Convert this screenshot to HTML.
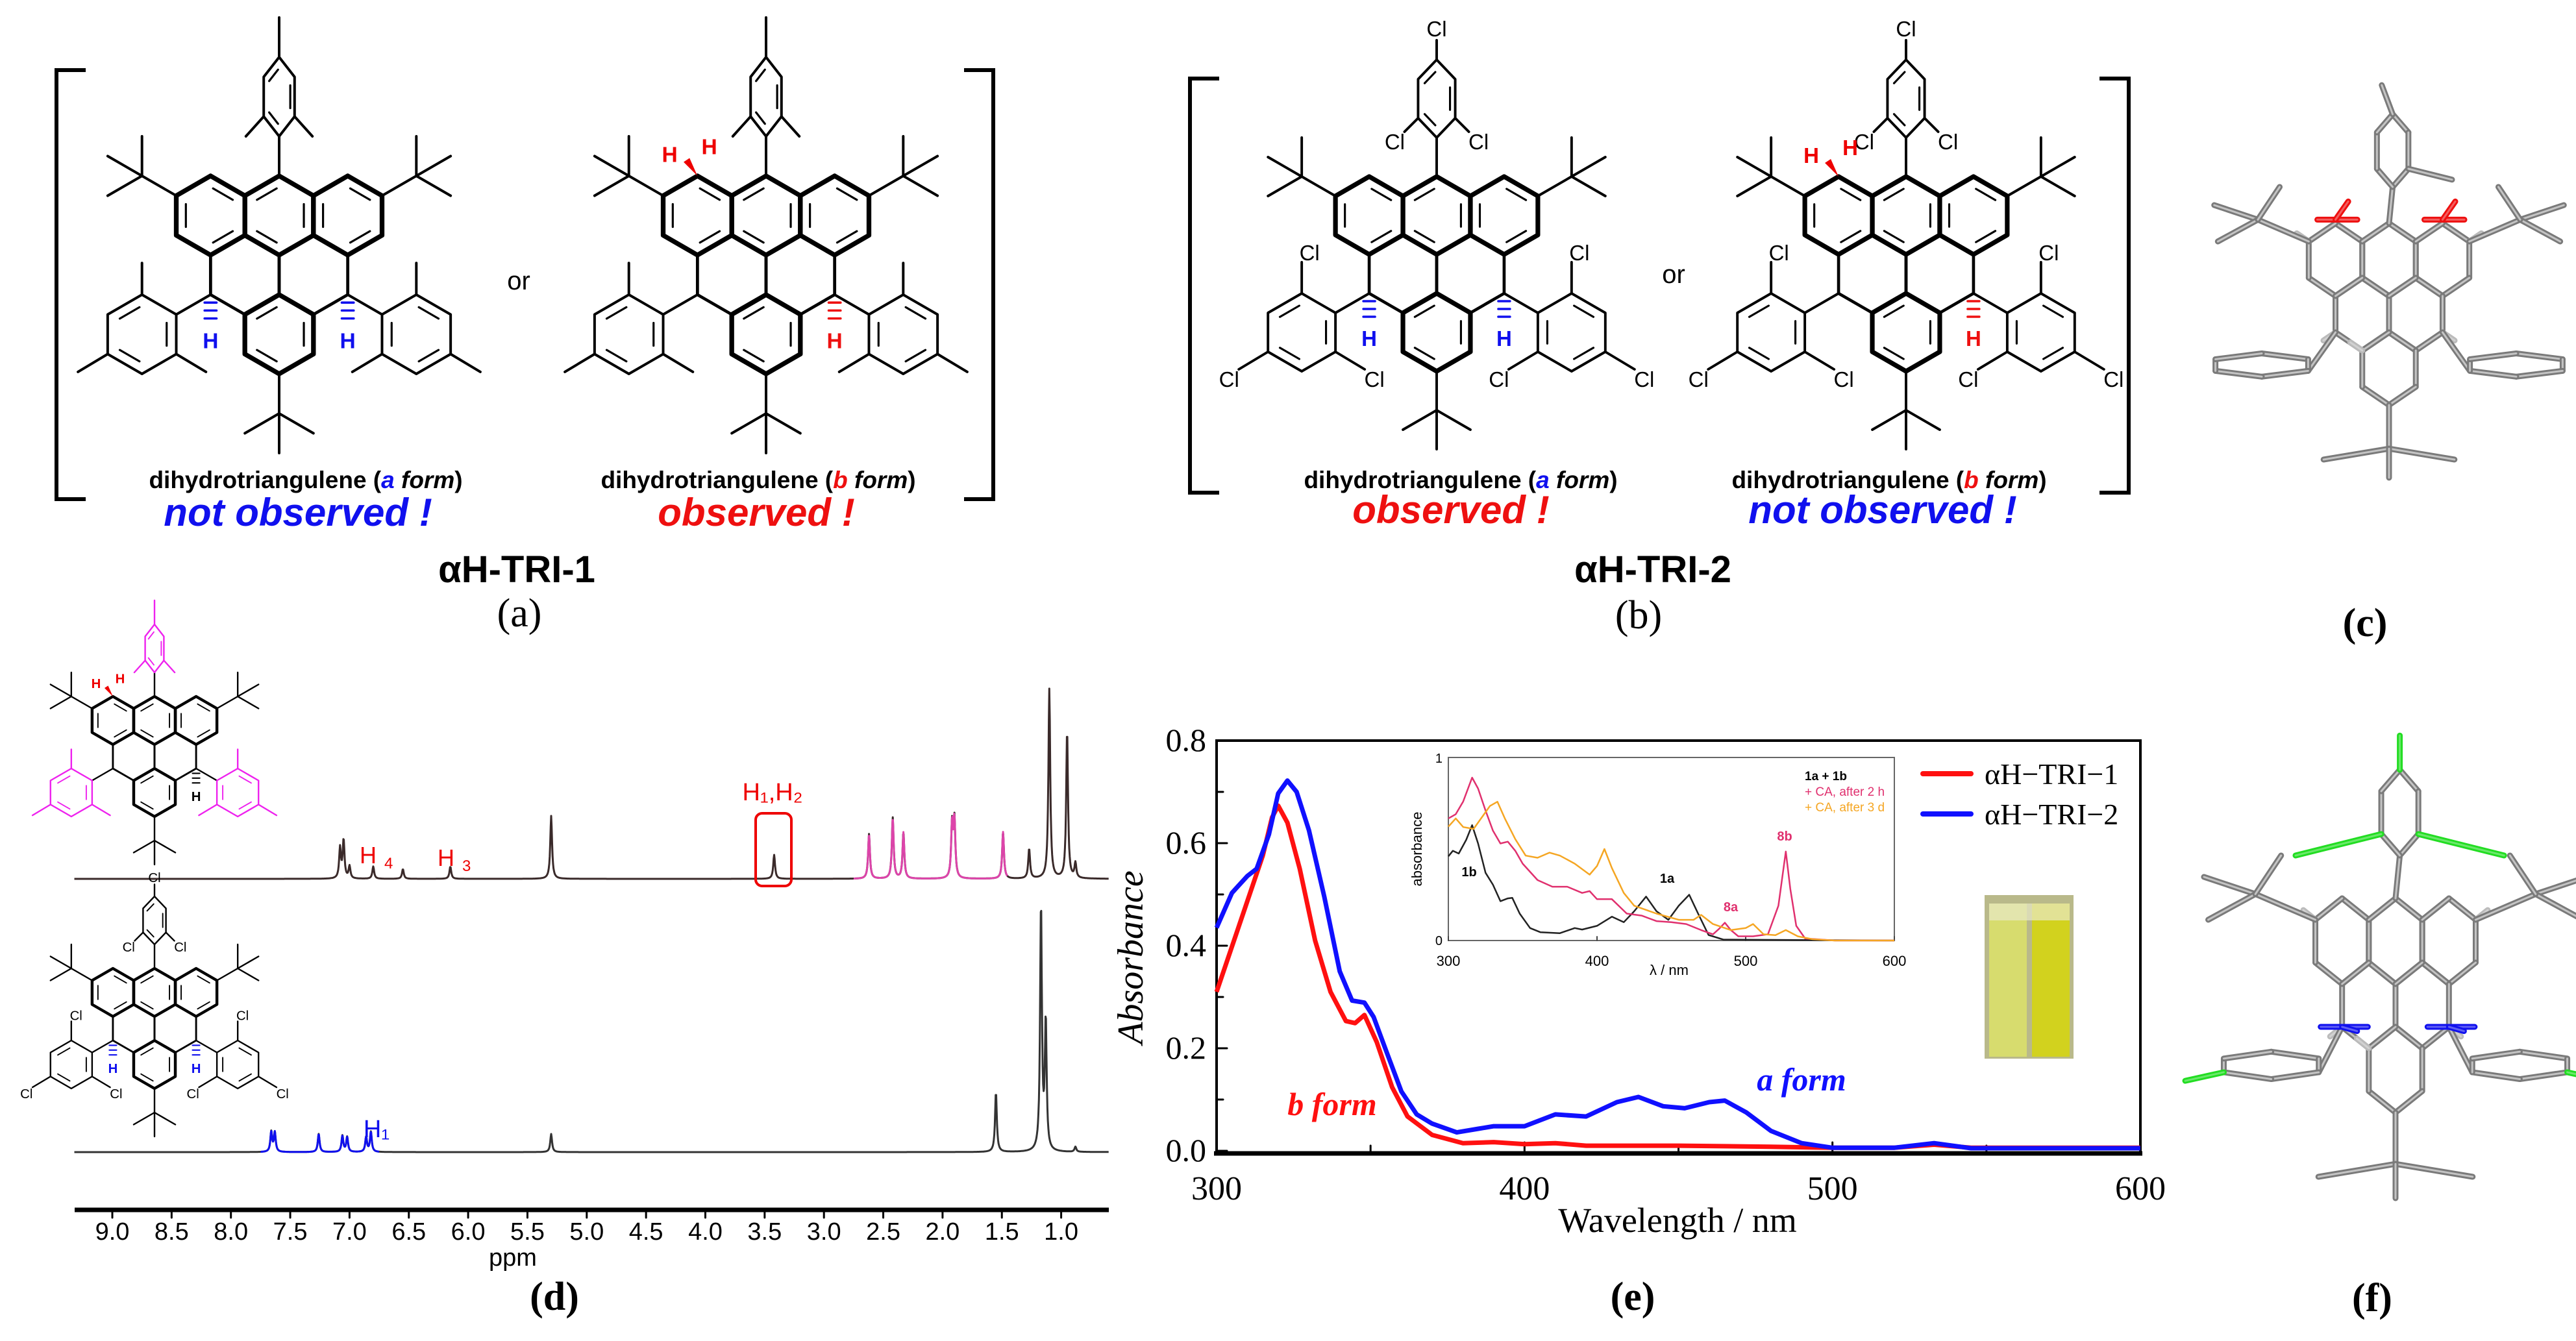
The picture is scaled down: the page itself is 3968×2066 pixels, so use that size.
<!DOCTYPE html>
<html><head><meta charset="utf-8"><style>
html,body{margin:0;padding:0;background:#fff;}
svg{display:block;}
text{font-family:"Liberation Sans",sans-serif;}
.serif{font-family:"Liberation Serif",serif;}
</style></head><body>
<svg id="root" width="3968" height="2066" viewBox="0 0 3968 2066" xmlns="http://www.w3.org/2000/svg">
<g id="gA"></g>
<g id="gB"></g>
<g id="gC"></g>
<g id="gD"></g>
<g id="gE"></g>
<g id="gF"></g>
</svg>
<script>
// ---- UV-vis main chart data ----
const uvRedWl = [300,310,315,318,320,323,327,332,337,342,345,348,352,357,362,370,380,390,400,410,420,450,480,500,520,533,545,600];
const uvRedAbs = [0.31,0.487,0.576,0.65,0.673,0.64,0.55,0.41,0.31,0.253,0.249,0.265,0.212,0.124,0.067,0.031,0.015,0.017,0.013,0.015,0.01,0.01,0.008,0.006,0.006,0.012,0.006,0.006];
const uvBlueWl = [300,305,310,313,317,320,323,326,330,335,340,344,348,351,355,360,365,370,378,385,390,400,410,420,430,437,445,452,460,465,472,480,490,500,520,533,545,600];
const uvBlueAbs = [0.435,0.503,0.536,0.55,0.617,0.697,0.722,0.70,0.625,0.495,0.35,0.293,0.289,0.261,0.196,0.116,0.071,0.053,0.036,0.043,0.048,0.048,0.071,0.067,0.095,0.105,0.087,0.083,0.095,0.098,0.075,0.039,0.015,0.006,0.006,0.015,0.005,0.005];
const uvXTicks = [300,400,500,600];
const uvYTicks = [0.0,0.2,0.4,0.6,0.8];
const uvYTickLabels = ["0.0","0.2","0.4","0.6","0.8"];
// ---- inset data ----
const insBlackWl = [300,303,307,312,316,320,325,330,335,340,343,348,355,362,375,385,390,400,410,418,425,433,440,448,455,462,468,475,485,600];
const insBlackVal = [0.46,0.49,0.475,0.55,0.63,0.53,0.37,0.305,0.215,0.23,0.233,0.147,0.068,0.045,0.04,0.068,0.06,0.08,0.13,0.1,0.16,0.24,0.16,0.113,0.19,0.25,0.147,0.03,0.005,0];
const insPinkWl = [300,305,310,316,320,325,330,335,340,345,350,360,370,380,390,395,400,410,420,430,440,450,460,470,478,482,486,490,495,505,515,522,527,530,534,540,560,600];
const insPinkVal = [0.667,0.69,0.76,0.89,0.83,0.71,0.6,0.53,0.54,0.49,0.42,0.33,0.294,0.294,0.26,0.27,0.226,0.226,0.147,0.136,0.106,0.1,0.09,0.057,0.034,0.063,0.097,0.057,0.023,0.023,0.034,0.19,0.486,0.283,0.08,0.011,0,0];
const insOrangeWl = [300,305,310,317,322,328,333,338,345,352,360,368,375,385,395,400,405,410,418,425,440,455,465,470,478,490,500,505,512,520,527,535,545,560,600];
const insOrangeVal = [0.622,0.667,0.62,0.61,0.667,0.735,0.758,0.667,0.554,0.464,0.452,0.48,0.464,0.42,0.36,0.407,0.5,0.396,0.26,0.19,0.147,0.113,0.113,0.14,0.09,0.057,0.068,0.09,0.034,0.029,0.057,0.023,0.007,0,0];
const insXTicks = [300,400,500,600];
// ---- NMR data (ppm, intensity) ----
const nmrTopPpm = [7.08,7.05,7.00,6.80,6.55,6.15,5.30,3.42,2.62,2.42,2.33,1.92,1.90,1.49,1.27,1.10,0.95,0.88];
const nmrTopInt = [47,59,19,19,15,19,97,37,69,94,71,82,88,72,46,292,228,23];
const nmrBotPpm = [7.66,7.63,7.26,7.06,7.02,6.86,6.82,5.30,1.55,1.17,1.13,0.88];
const nmrBotInt = [31,30,28,25,23,23,31,28,92,379,198,8];
const nmrTicks = [9.0,8.5,8.0,7.5,7.0,6.5,6.0,5.5,5.0,4.5,4.0,3.5,3.0,2.5,2.0,1.5,1.0];

const NS='http://www.w3.org/2000/svg';
function mk(parent,tag,attrs,name,inter){
  const el=document.createElementNS(NS,tag);
  for(const k in attrs) el.setAttribute(k,attrs[k]);
  
  
  parent.appendChild(el); return el;
}
function ln(g,x1,y1,x2,y2,w,col,name){return mk(g,'line',{x1:x1,y1:y1,x2:x2,y2:y2,stroke:col||'#000','stroke-width':w,'stroke-linecap':'round'},name||'bond',false);}
function tx(g,x,y,s,size,opt,name){
  opt=opt||{};
  const t=mk(g,'text',{x:x,y:y,'font-size':size,'text-anchor':opt.anchor||'middle',fill:opt.fill||'#000','font-weight':opt.bold?'bold':'normal','font-style':opt.italic?'italic':'normal'},name||'label',false);
  if(opt.serif) t.setAttribute('class','serif');
  if(opt.rot) t.setAttribute('transform','rotate('+opt.rot+' '+x+' '+y+')');
  t.textContent=s; return t;
}
const S3=Math.sqrt(3);
function hexPts(cx,cy,L,sx){sx=sx||1;const p=[];for(let k=0;k<6;k++){const a=(-90+60*k)*Math.PI/180;p.push([cx+Math.cos(a)*L*sx,cy+Math.sin(a)*L]);}return p;}
function innerBonds(g,cx,cy,p,start,w,col){
  for(let k=start;k<6;k+=2){const a=p[k],b=p[(k+1)%6];const f=0.72;
    const ax=cx+(a[0]-cx)*f, ay=cy+(a[1]-cy)*f, bx=cx+(b[0]-cx)*f, by=cy+(b[1]-cy)*f;
    ln(g,ax+(bx-ax)*0.1,ay+(by-ay)*0.1,bx-(bx-ax)*0.1,by-(by-ay)*0.1,w,col,'double-bond');}
}

// ---------- 2D molecule ----------
function mol(g,c,y0,L,o){
  const bw=0.12*L, tw=0.065*L, col='#000', mc=o.mesCol||'#000';
  const rings=[[c-S3*L,y0],[c,y0],[c+S3*L,y0],[c-S3*L/2,y0+1.5*L],[c+S3*L/2,y0+1.5*L],[c,y0+3*L]];
  rings.forEach((r,i)=>{
    const p=hexPts(r[0],r[1],L);
    mk(g,'polygon',{points:p.map(q=>q.join(',')).join(' '),fill:'none',stroke:col,'stroke-width':(i===3||i===4)?tw*1.2:bw,'stroke-linejoin':'round'},'core-ring',false);
    if(i!==3&&i!==4) innerBonds(g,r[0],r[1],p,i%2,tw*0.8,col);
  });
  const tsx=o.cl?0.55:0.45;
  ln(g,c,y0-L,c,y0-2*L,tw,col,'aryl-bond');
  const tp=hexPts(c,y0-3*L,L,tsx);
  mk(g,'polygon',{points:tp.map(q=>q.join(',')).join(' '),fill:'none',stroke:mc,'stroke-width':tw,'stroke-linejoin':'round'},'top-aryl-ring',false);
  innerBonds(g,c,y0-3*L,tp,1,tw*0.8,mc);
  if(o.cl){
    ln(g,c,y0-4*L,c,y0-4.5*L,tw,col,'cl-bond');
    tx(g,c,y0-4.6*L,'Cl',0.55*L,{},'cl-atom');
    ln(g,tp[4][0],tp[4][1],tp[4][0]-0.35*L,tp[4][1]+0.35*L,tw,col,'cl-bond');
    ln(g,tp[2][0],tp[2][1],tp[2][0]+0.35*L,tp[2][1]+0.35*L,tw,col,'cl-bond');
    tx(g,tp[4][0]-0.6*L,tp[4][1]+0.8*L,'Cl',0.55*L,{},'cl-atom');
    tx(g,tp[2][0]+0.6*L,tp[2][1]+0.8*L,'Cl',0.55*L,{},'cl-atom');
  } else {
    ln(g,c,y0-4*L,c,y0-5*L,tw,mc,'methyl');
    ln(g,tp[4][0],tp[4][1],tp[4][0]-0.45*L,tp[4][1]+0.5*L,tw,mc,'methyl');
    ln(g,tp[2][0],tp[2][1],tp[2][0]+0.45*L,tp[2][1]+0.5*L,tw,mc,'methyl');
  }
  [-1,1].forEach(s=>{
    const vx=c+s*(S3*L+0.866*L), vy=y0-0.5*L, qx=vx+s*0.866*L, qy=vy-0.5*L;
    ln(g,vx,vy,qx,qy,tw,col,'tbu-bond');
    ln(g,qx,qy,qx,qy-L,tw,col,'tbu-methyl');
    ln(g,qx,qy,qx+s*0.866*L,qy-0.5*L,tw,col,'tbu-methyl');
    ln(g,qx,qy,qx+s*0.866*L,qy+0.5*L,tw,col,'tbu-methyl');
  });
  const qy=y0+5*L;
  ln(g,c,y0+4*L,c,qy,tw,col,'tbu-bond');
  ln(g,c,qy,c,qy+L,tw,col,'tbu-methyl');
  ln(g,c,qy,c-0.866*L,qy+0.5*L,tw,col,'tbu-methyl');
  ln(g,c,qy,c+0.866*L,qy+0.5*L,tw,col,'tbu-methyl');
  [-1,1].forEach(s=>{
    const chx=c+s*S3*L, chy=y0+2*L;
    const ax=chx+s*0.866*L, ay=chy+0.5*L;
    ln(g,chx,chy,ax,ay,tw,col,'aryl-bond');
    const rc=[chx+s*1.732*L,chy+L];
    const p=hexPts(rc[0],rc[1],L);
    mk(g,'polygon',{points:p.map(q=>q.join(',')).join(' '),fill:'none',stroke:mc,'stroke-width':tw,'stroke-linejoin':'round'},'side-aryl-ring',false);
    innerBonds(g,rc[0],rc[1],p,s<0?1:0,tw*0.8,mc);
    const top=p[0], lr=s<0?p[2]:p[4], para=s<0?p[4]:p[2];
    const ends=[[top[0],top[1]-L*0.8],[lr[0]-s*0.75*L,lr[1]+0.45*L],[para[0]+s*0.75*L,para[1]+0.45*L]];
    [top,lr,para].forEach((v,i)=>{
      ln(g,v[0],v[1],ends[i][0],ends[i][1],tw,o.cl?col:mc,o.cl?'cl-bond':'methyl');
      if(o.cl) tx(g,ends[i][0]+(i===0?0.2*L:i===1?-s*0.25*L:s*0.25*L),ends[i][1]+(i===0?-0.05*L:0.45*L),'Cl',0.55*L,{},'cl-atom');
    });
    const showH = o.form==='a' || s>0;
    if(showH){
      for(let k=1;k<4;k++) ln(g,chx-0.15*L,chy+k*0.2*L,chx+0.15*L,chy+k*0.2*L,tw*0.9,o.hcol,'hash-bond');
      tx(g,chx,chy+1.35*L,'H',0.55*L,{fill:o.hcol,bold:true},'hydrogen-label');
    }
  });
  if(o.form==='b'){
    const hx=c-S3*L, hy=y0-L;
    tx(g,hx-0.7*L,hy-0.35*L,'H',0.55*L,{fill:'#e00',bold:true},'hydrogen-label');
    tx(g,hx+0.3*L,hy-0.55*L,'H',0.55*L,{fill:'#e00',bold:true},'hydrogen-label');
    mk(g,'polygon',{points:(hx)+','+hy+' '+(hx-0.35*L)+','+(hy-0.35*L)+' '+(hx-0.2*L)+','+(hy-0.45*L),fill:'#e00'},'wedge-bond',false);
  }
}
const gA=document.getElementById('gA'), gB=document.getElementById('gB');
function bracket(g,x1,x2,yt,yb){
  mk(g,'path',{d:'M'+(x1+45)+','+yt+' H'+x1+' V'+yb+' H'+(x1+45),fill:'none',stroke:'#000','stroke-width':6},'left-bracket',false);
  mk(g,'path',{d:'M'+(x2-45)+','+yt+' H'+x2+' V'+yb+' H'+(x2-45),fill:'none',stroke:'#000','stroke-width':6},'right-bracket',false);
}
bracket(gA,87,1530,108,769);
mol(gA,430,332,61,{form:'a',hcol:'#1010ee'});
mol(gA,1180,332,61,{form:'b',hcol:'#ee1010'});
tx(gA,799,446,'or',40,{},'or-label');
function capt(g,x,letter,col){
  const t=tx(g,x,752,'',37,{},'form-caption');
  const a=document.createElementNS(NS,'tspan');a.textContent='dihydrotriangulene (';t.appendChild(a);
  const b=document.createElementNS(NS,'tspan');b.setAttribute('fill',col);b.setAttribute('font-style','italic');b.textContent=letter;t.appendChild(b);
  const c=document.createElementNS(NS,'tspan');c.setAttribute('font-style','italic');c.textContent=' form';t.appendChild(c);
  const d=document.createElementNS(NS,'tspan');d.textContent=')';t.appendChild(d);
  t.setAttribute('font-weight','bold');
}
capt(gA,471,'a','#1010ee'); capt(gA,1168,'b','#ee1010');
tx(gA,459,810,'not observed !',60,{fill:'#1010ee',bold:true,italic:true},'not-observed-label');
tx(gA,1165,810,'observed !',60,{fill:'#ee1010',bold:true,italic:true},'observed-label');
tx(gA,796,897,'αH-TRI-1',58,{bold:true},'compound-name');
tx(gA,800,965,'(a)',62,{serif:true},'panel-label-a');

bracket(gB,1833,3279,121,759);
mol(gB,2213,332,60,{form:'a',cl:true,hcol:'#1010ee'});
mol(gB,2936,332,60,{form:'b',cl:true,hcol:'#ee1010'});
tx(gB,2578,436,'or',40,{},'or-label');
capt(gB,2250,'a','#1010ee'); capt(gB,2910,'b','#ee1010');
tx(gB,2235,806,'observed !',60,{fill:'#ee1010',bold:true,italic:true},'observed-label');
tx(gB,2900,806,'not observed !',60,{fill:'#1010ee',bold:true,italic:true},'not-observed-label');
tx(gB,2546,897,'αH-TRI-2',58,{bold:true},'compound-name');
tx(gB,2524,968,'(b)',62,{serif:true},'panel-label-b');

// ---------- 3D stick models ----------
function stick(g,x1,y1,x2,y2,col,name){
  ln(g,x1,y1,x2,y2,9,col==='#8a8a8a'?'#7a7a7a':col,name);
  ln(g,x1,y1,x2,y2,3,col==='#8a8a8a'?'#c4c4c4':'#ffffff55',name+'-highlight');
}
function mol3d(g,c,y0,L,sx,o){
  const G='#8a8a8a';
  const rings=[[c-S3*L*sx,y0],[c,y0],[c+S3*L*sx,y0],[c-S3*L*sx/2,y0+1.5*L],[c+S3*L*sx/2,y0+1.5*L],[c,y0+3*L]];
  rings.forEach(r=>{const p=hexPts(r[0],r[1],L,sx);for(let k=0;k<6;k++)stick(g,p[k][0],p[k][1],p[(k+1)%6][0],p[(k+1)%6][1],G,'stick-bond');});
  [[0,5],[2,1],[3,4],[4,2],[5,3],[5,5]].forEach(a=>{const r=rings[a[0]];const p=hexPts(r[0],r[1],L,sx)[a[1]];const dx=p[0]-r[0],dy=p[1]-r[1];stick(g,p[0],p[1],p[0]+dx*0.45,p[1]+dy*0.45,'#bbbbbb','h-stick');});
  const tp=hexPts(c+0.1*L,y0-3*L,L,0.5);
  stick(g,c,y0-L,tp[3][0],tp[3][1],G,'stick-bond');
  for(let k=0;k<6;k++)stick(g,tp[k][0],tp[k][1],tp[(k+1)%6][0],tp[(k+1)%6][1],G,'stick-bond');
  if(o.cl){stick(g,tp[0][0],tp[0][1],tp[0][0],tp[0][1]-0.8*L,'#22dd22','cl-stick');
    stick(g,tp[4][0],tp[4][1],tp[4][0]-2*L,tp[4][1]+0.5*L,'#22dd22','cl-stick');stick(g,tp[2][0],tp[2][1],tp[2][0]+2*L,tp[2][1]+0.5*L,'#22dd22','cl-stick');}
  else {stick(g,tp[0][0],tp[0][1],tp[0][0]-0.3*L,tp[0][1]-0.8*L,G,'methyl-stick');stick(g,tp[2][0],tp[2][1],tp[2][0]+1.2*L,tp[2][1]+0.3*L,G,'methyl-stick');}
  [-1,1].forEach(s=>{const vx=c+s*(S3*L+0.866*L)*sx, vy=y0-0.5*L, qx=vx+s*1.4*L, qy=vy-0.6*L;
    stick(g,vx,vy,qx,qy,G,'tbu-stick');stick(g,qx,qy,qx+s*1.2*L,qy-0.4*L,G,'tbu-stick');stick(g,qx,qy,qx+s*1.1*L,qy+0.6*L,G,'tbu-stick');stick(g,qx,qy,qx-s*0.6*L,qy-0.9*L,G,'tbu-stick');});
  const qy=y0+5.2*L;
  stick(g,c,y0+4*L,c,qy,G,'tbu-stick');stick(g,c,qy,c-1.8*L,qy+0.3*L,G,'tbu-stick');stick(g,c,qy,c+1.8*L,qy+0.3*L,G,'tbu-stick');stick(g,c,qy,c,qy+0.8*L,G,'tbu-stick');
  [-1,1].forEach(s=>{const chx=c+s*S3*L*sx, chy=y0+2*L;
    const rc=[c+s*o.arOff*L,chy+0.9*L];const p=hexPts(rc[0],rc[1],L*0.32,o.arW);
    stick(g,chx,chy,p[s<0?2:4][0],p[s<0?2:4][1],G,'stick-bond');
    for(let k=0;k<6;k++)stick(g,p[k][0],p[k][1],p[(k+1)%6][0],p[(k+1)%6][1],G,'stick-bond');
    if(o.cl) stick(g,p[s<0?4:2][0],p[s<0?4:2][1],p[s<0?4:2][0]+s*0.9*L,p[s<0?4:2][1]+0.2*L,'#22dd22','cl-stick');
    const mc=o.mark, my=o.cl?chy:chy-3.1*L;
    stick(g,chx-0.5*L,my,chx+0.6*L,my,mc,'marked-h');
    stick(g,chx,my,chx+0.35*L,my-(o.cl?-0.1*L:0.5*L),mc,'marked-h');
  });
}
const gC=document.getElementById('gC'), gF=document.getElementById('gF');
mol3d(gC,3680,400,56,0.85,{mark:'#ee1010',arOff:3.5,arW:4.6});
tx(gC,3643,980,'(c)',62,{serif:true,bold:true},'panel-label-c');
mol3d(gF,3690,1450,66,0.72,{mark:'#1010ee',cl:true,arOff:2.9,arW:4.0});
tx(gF,3654,2020,'(f)',62,{serif:true,bold:true},'panel-label-f');

// ---------- panel d NMR ----------
const gD=document.getElementById('gD');
const px=p=>173+(9.0-p)*182.7;
function spec(g,base,ppm,ints,col,lo,hi,name){
  let d='';let first=true;
  for(let p=hi;p>=lo;p-=0.004){let v=0;for(let i=0;i<ppm.length;i++){const z=(p-ppm[i])/0.009;v+=ints[i]/(1+z*z);}
    d+=(first?'M':'L')+px(p).toFixed(1)+','+(base-v).toFixed(1);first=false;}
  return mk(g,'path',{d:d,fill:'none',stroke:col,'stroke-width':3,'stroke-linejoin':'round'},name,false);
}
spec(gD,1354,nmrTopPpm,nmrTopInt,'#3a2a2a',0.6,9.32,'nmr-spectrum-top');
spec(gD,1354,nmrTopPpm,nmrTopInt,'#dd44aa',1.45,2.75,'nmr-top-mesityl-signals');
spec(gD,1775,nmrBotPpm,nmrBotInt,'#333',0.6,9.32,'nmr-spectrum-bottom');
spec(gD,1775,nmrBotPpm,nmrBotInt,'#1010ee',6.75,7.75,'nmr-bottom-aromatic-signals');
ln(gD,115,1864,1708,1864,7,'#000','nmr-x-axis').setAttribute('stroke-linecap','butt');
nmrTicks.forEach(t=>{ln(gD,px(t),1864,px(t),1876,3,'#000','nmr-tick');tx(gD,px(t),1910,t.toFixed(1),38,{},'nmr-tick-label');});
tx(gD,790,1950,'ppm',38,{},'nmr-x-axis-title');
tx(gD,854,2018,'(d)',62,{serif:true,bold:true},'panel-label-d');
tx(gD,580,1330,'H',36,{fill:'#e00',anchor:'end'},'h4-label');tx(gD,592,1338,'4',24,{fill:'#e00',anchor:'start'},'h4-sub');
tx(gD,700,1334,'H',36,{fill:'#e00',anchor:'end'},'h3-label');tx(gD,712,1342,'3',24,{fill:'#e00',anchor:'start'},'h3-sub');
tx(gD,1190,1233,'H₁,H₂',38,{fill:'#e00'},'h1-h2-label');
mk(gD,'rect',{x:1164,y:1253,width:55,height:112,rx:10,fill:'none',stroke:'#e00','stroke-width':4},'h1-h2-highlight-box',false);
tx(gD,580,1752,'H₁',38,{fill:'#1010ee'},'h1-label');
mol(gD,238,1110,37,{form:'b',hcol:'#000',mesCol:'#ee22ee'});
mol(gD,238,1529,37,{form:'a',cl:true,hcol:'#1010ee'});

// ---------- panel e UV-vis ----------
const gE=document.getElementById('gE');
const xE=w=>1874+(w-300)*(3297-1874)/300;
const yE=a=>1773-a*790;
mk(gE,'path',{d:'M1874,1777 V1141 H3297 V1777',fill:'none',stroke:'#000','stroke-width':4},'plot-frame',false);
ln(gE,1870,1777,3300,1777,7,'#000','x-axis').setAttribute('stroke-linecap','butt');
uvYTicks.forEach((t,i)=>{ln(gE,1874,yE(t),1890,yE(t),3,'#000','y-tick');tx(gE,1858,yE(t)+16,uvYTickLabels[i],50,{anchor:'end',serif:true},'y-tick-label');});
[0.1,0.3,0.5,0.7].forEach(t=>ln(gE,1874,yE(t),1884,yE(t),3,'#000','y-minor-tick'));
uvXTicks.forEach(t=>{ln(gE,xE(t),1777,xE(t),1760,3,'#000','x-tick');tx(gE,xE(t),1848,String(t),52,{serif:true},'x-tick-label');});
[350,450,550].forEach(t=>ln(gE,xE(t),1777,xE(t),1765,3,'#000','x-minor-tick'));
tx(gE,1760,1475,'Absorbance',56,{serif:true,italic:true,rot:-90},'y-axis-title');
tx(gE,2584,1898,'Wavelength / nm',54,{serif:true},'x-axis-title');
function series(g,wl,val,fx,fy,col,w,name){
  const d=wl.map((x,i)=>(i?'L':'M')+fx(x).toFixed(1)+','+fy(val[i]).toFixed(1)).join(' ');
  return mk(g,'path',{d:d,fill:'none',stroke:col,'stroke-width':w,'stroke-linejoin':'round'},name,false);
}
series(gE,uvRedWl,uvRedAbs,xE,yE,'#ff1010',7,'series-aH-TRI-1');
series(gE,uvBlueWl,uvBlueAbs,xE,yE,'#1010ff',7,'series-aH-TRI-2');
tx(gE,2052,1718,'b form',50,{serif:true,italic:true,bold:true,fill:'#ff1010'},'b-form-annotation');
tx(gE,2775,1680,'a form',50,{serif:true,italic:true,bold:true,fill:'#1010ff'},'a-form-annotation');
ln(gE,2962,1192,3036,1192,8,'#ff1010','legend-swatch-1');
tx(gE,3057,1208,'αH−TRI−1',46,{anchor:'start',serif:true},'legend-entry-1');
ln(gE,2962,1254,3036,1254,8,'#1010ff','legend-swatch-2');
tx(gE,3057,1270,'αH−TRI−2',46,{anchor:'start',serif:true},'legend-entry-2');
const xI=w=>2231+(w-300)*(687/300);
const yI=v=>1449-v*282;
const gI=mk(gE,'g',{},'inset-chart',false);
mk(gI,'rect',{x:2231,y:1167,width:687,height:282,fill:'none',stroke:'#666','stroke-width':2},'inset-frame',false);
insXTicks.forEach(t=>{ln(gI,xI(t),1449,xI(t),1443,2,'#444','inset-x-tick');tx(gI,xI(t),1488,String(t),22,{},'inset-x-tick-label');});
tx(gI,2222,1175,'1',20,{anchor:'end'},'inset-y-tick-label');tx(gI,2222,1456,'0',20,{anchor:'end'},'inset-y-tick-label');
tx(gI,2571,1502,'λ / nm',22,{},'inset-x-axis-title');
tx(gI,2190,1308,'absorbance',22,{rot:-90},'inset-y-axis-title');
series(gI,insBlackWl,insBlackVal,xI,yI,'#222',2.5,'inset-series-1a-1b');
series(gI,insPinkWl,insPinkVal,xI,yI,'#e0306e',2.5,'inset-series-ca-2h');
series(gI,insOrangeWl,insOrangeVal,xI,yI,'#f5a623',2.5,'inset-series-ca-3d');
tx(gI,2263,1350,'1b',20,{bold:true},'inset-annot-1b');
tx(gI,2568,1360,'1a',20,{bold:true},'inset-annot-1a');
tx(gI,2666,1404,'8a',20,{bold:true,fill:'#e0306e'},'inset-annot-8a');
tx(gI,2749,1295,'8b',20,{bold:true,fill:'#e0306e'},'inset-annot-8b');
tx(gI,2780,1202,'1a + 1b',19,{anchor:'start',bold:true},'inset-legend-1');
tx(gI,2780,1226,'+ CA, after 2 h',19,{anchor:'start',fill:'#e0306e'},'inset-legend-2');
tx(gI,2780,1250,'+ CA, after 3 d',19,{anchor:'start',fill:'#f5a623'},'inset-legend-3');
const gP=mk(gE,'g',{},'cuvette-photo',false);
mk(gP,'rect',{x:3057,y:1379,width:137,height:252,fill:'#b9b98a'},'photo-background',false);
mk(gP,'rect',{x:3064,y:1392,width:58,height:236,fill:'#d7dc6e'},'cuvette-left',false);
mk(gP,'rect',{x:3130,y:1392,width:58,height:236,fill:'#d2d21e'},'cuvette-right',false);
mk(gP,'rect',{x:3064,y:1392,width:124,height:26,fill:'#e8e8c8',opacity:0.7},'cuvette-caps',false);
tx(gE,2515,2018,'(e)',62,{serif:true,bold:true},'panel-label-e');
</script>
</body></html>
